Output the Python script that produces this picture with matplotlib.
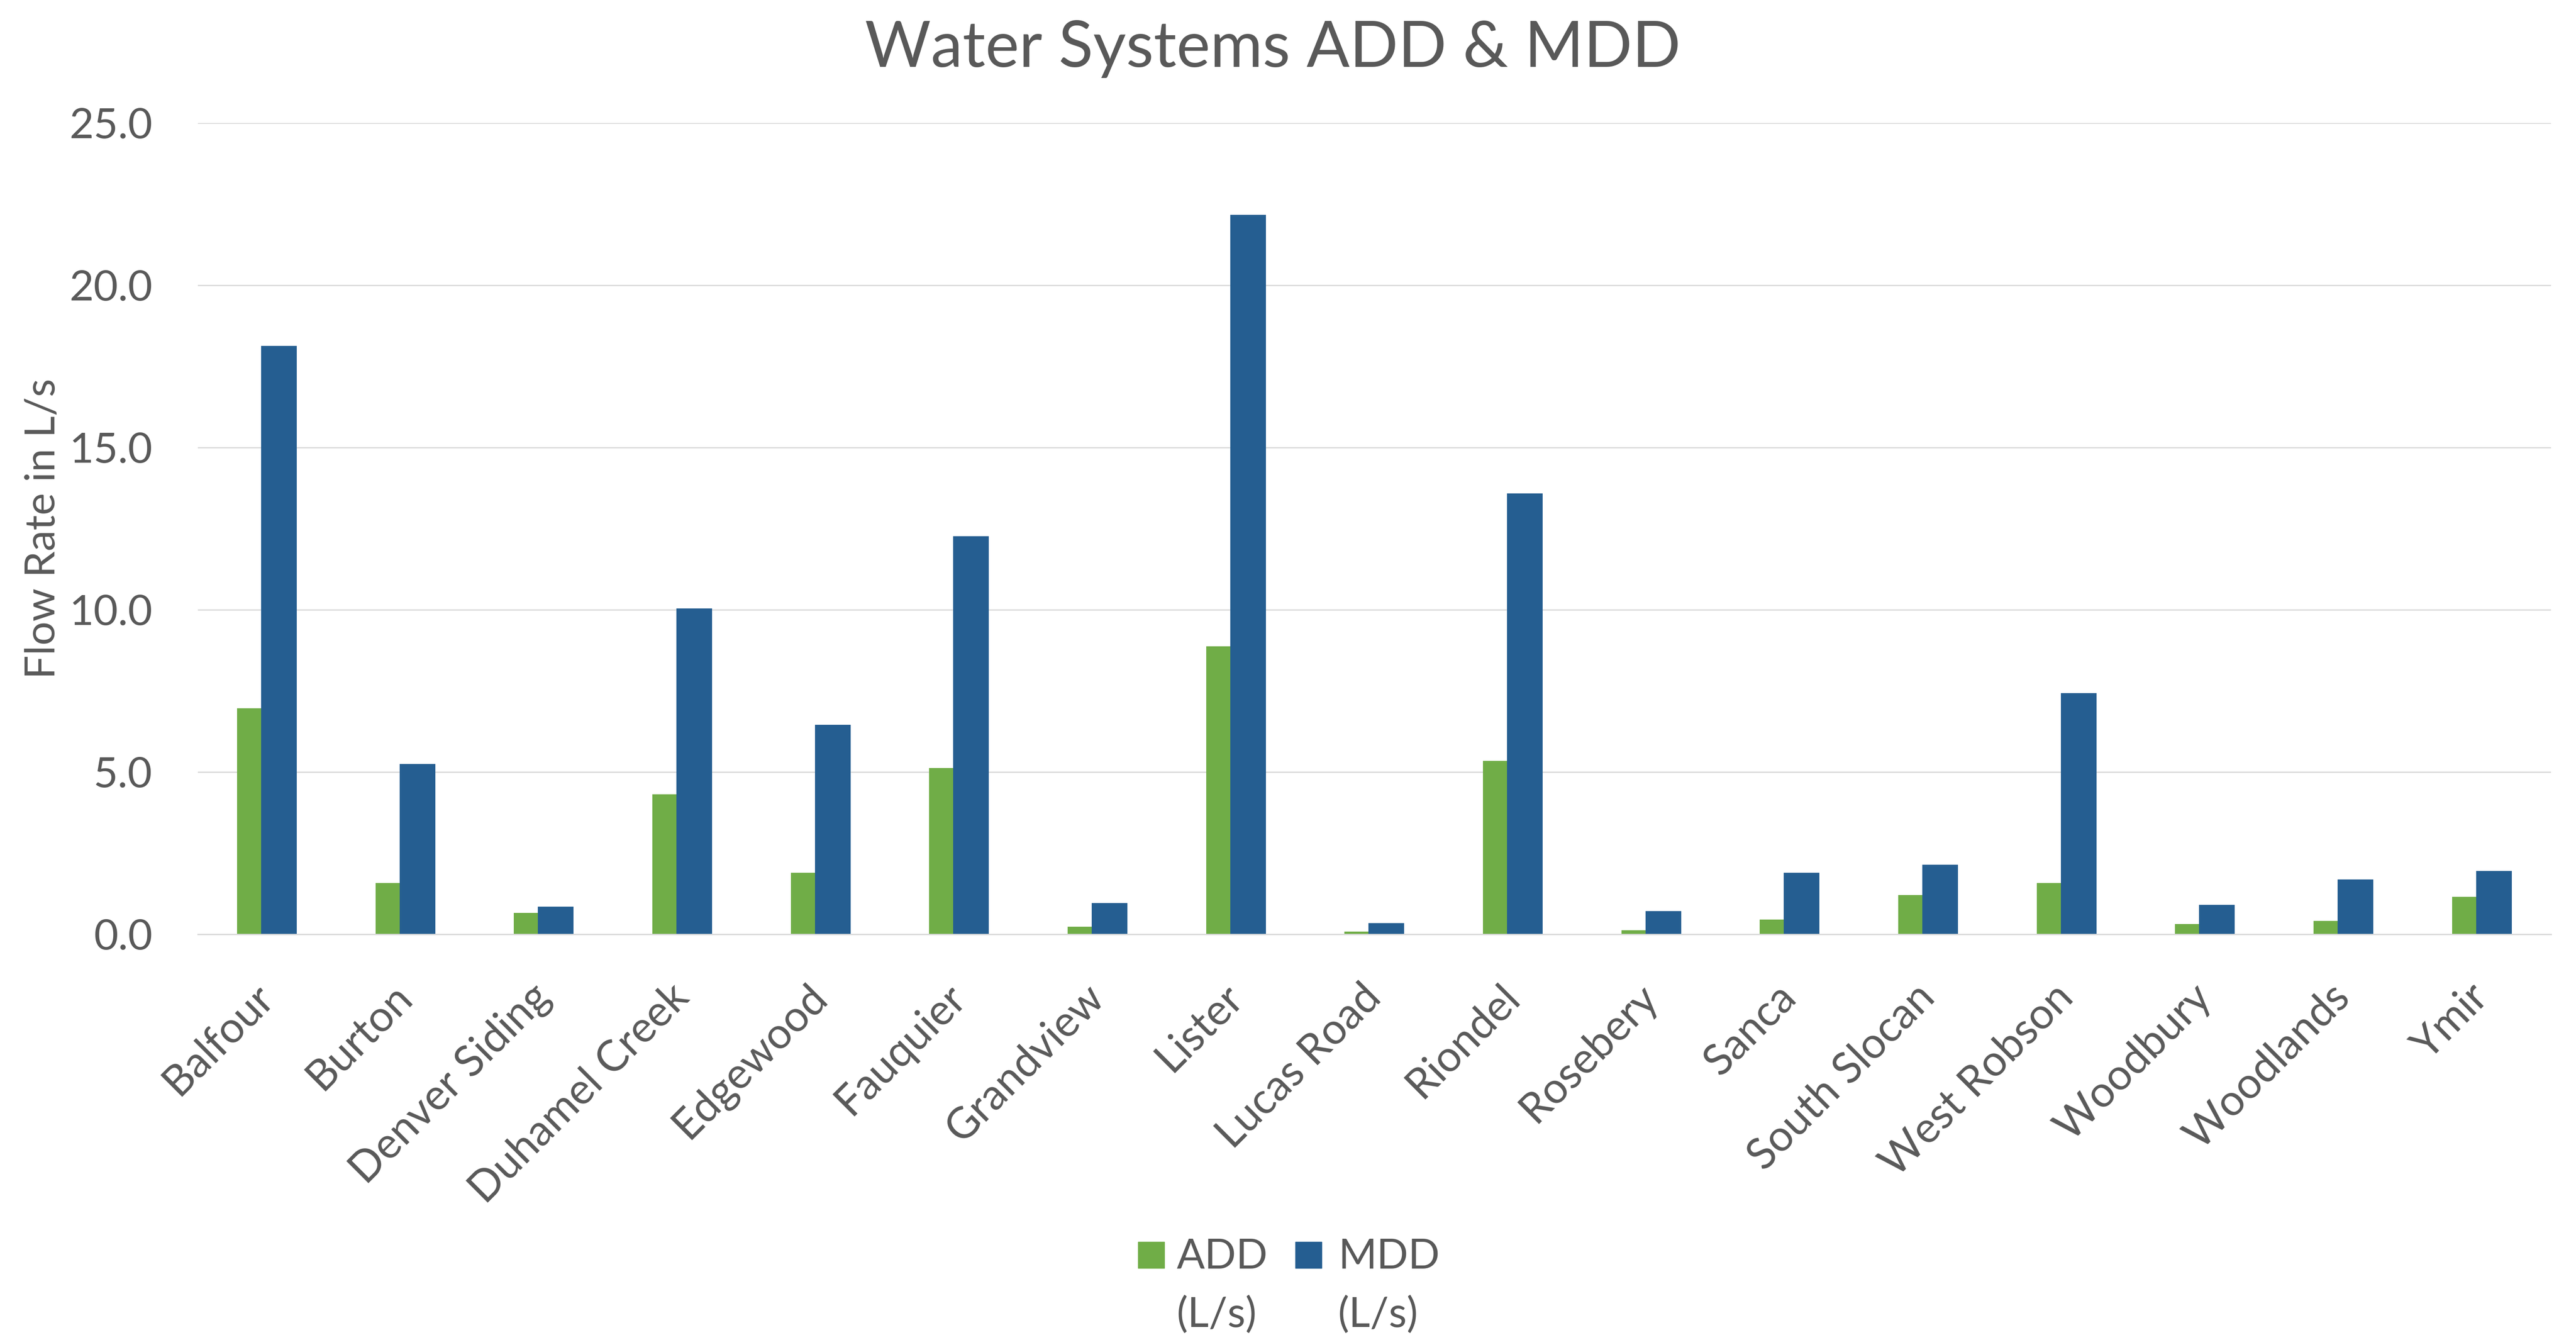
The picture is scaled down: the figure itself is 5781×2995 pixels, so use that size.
import matplotlib
matplotlib.use("Agg")
import matplotlib.pyplot as plt
from matplotlib.patches import Rectangle
import numpy as np

# Water system names and demand figures (L/s)
systems = ["Balfour", "Burton", "Denver Siding", "Duhamel Creek", "Edgewood",
           "Fauquier", "Grandview", "Lister", "Lucas Road", "Riondel",
           "Rosebery", "Sanca", "South Slocan", "West Robson", "Woodbury",
           "Woodlands", "Ymir"]
add_values = [6.97, 1.58, 0.66, 4.31, 1.89, 5.12, 0.24, 8.87, 0.08, 5.35,
              0.13, 0.46, 1.21, 1.58, 0.32, 0.41, 1.15]
mdd_values = [18.13, 5.25, 0.85, 10.04, 6.46, 12.26, 0.96, 22.17, 0.35, 13.59,
              0.71, 1.89, 2.14, 7.43, 0.91, 1.69, 1.95]
series_labels = ["ADD (L/s)", "MDD (L/s)"]
y_ticks = [0, 5, 10, 15, 20, 25]

GREEN = "#70AD47"
BLUE = "#255E91"
TEXT = "#595959"
GRID = "#D9D9D9"
FONT = ["Lato", "DejaVu Sans"]

plt.rcParams["font.family"] = FONT

W, H = 5781, 2995
fig = plt.figure(figsize=(W / 100, H / 100), dpi=100)
ax = fig.add_axes([443.7 / W, 1 - 2096 / H, (5725 - 443.7) / W, (2096 - 276) / H])

x = np.arange(len(systems))
bar_w = 0.258
offset = 0.087
ax.bar(x - offset, add_values, width=bar_w, color=GREEN, zorder=2,
       label=series_labels[0])
ax.bar(x + offset, mdd_values, width=bar_w, color=BLUE, zorder=3,
       label=series_labels[1])

ax.set_xlim(-0.5, len(systems) - 0.5)
ax.set_ylim(0, 25)
ax.set_yticks(y_ticks)
ax.set_yticklabels([f"{v:.1f}" for v in y_ticks])
ax.yaxis.grid(True, color=GRID, linewidth=2.0, zorder=0)
ax.set_axisbelow(True)
for side in ["top", "right", "left"]:
    ax.spines[side].set_visible(False)
ax.spines["bottom"].set_color(GRID)
ax.spines["bottom"].set_linewidth(2.2)
ax.spines["bottom"].set_zorder(4)

ax.tick_params(axis="y", length=0, pad=73, labelsize=68, labelcolor=TEXT)
ax.tick_params(axis="x", length=0, pad=0, labelsize=69, labelcolor=TEXT)
ax.set_xticks(x)
ax.set_xticklabels(systems, rotation=45, ha="right", va="center",
                   rotation_mode="anchor")
for lbl in ax.get_xticklabels():
    lbl.set_y(-0.07)

ax.set_ylabel("Flow Rate in L/s", fontsize=68, color=TEXT)
ax.yaxis.set_label_coords(-0.0576, 0.5)

fig.text(2856 / W, 1 - 150 / H, "Water Systems ADD & MDD", ha="center",
         va="baseline", fontsize=103, color=TEXT)

# legend below the plot, labels wrapped onto two lines
legend_items = [(2554, 2641, GREEN, "ADD", "(L/s)"),
                (2907, 3003, BLUE, "MDD", "(L/s)")]
for px, tx, col, line1, line2 in legend_items:
    fig.add_artist(Rectangle((px / W, 1 - 2845 / H), 59 / W, 59 / H,
                             transform=fig.transFigure, color=col))
    fig.text(tx / W, 1 - 2846 / H, line1, ha="left", va="baseline",
             fontsize=67, color=TEXT)
    fig.text(tx / W, 1 - 2977 / H, line2, ha="left", va="baseline",
             fontsize=67, color=TEXT)

fig.savefig("out.png", dpi=100, facecolor="white")
